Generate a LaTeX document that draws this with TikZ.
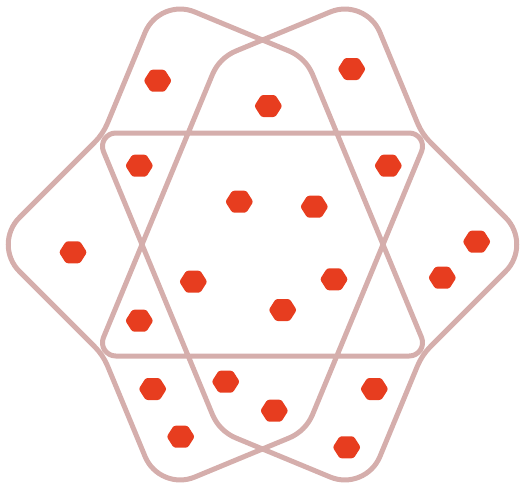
\documentclass[tikz,border=0pt]{standalone}
\usetikzlibrary{calc}
\definecolor{outlinecol}{RGB}{213,174,172}
\definecolor{blobred}{RGB}{231,61,31}
% #1 name, #2 previous vertex, #3 corner vertex, #4 next vertex, #5 tangent length, #6 control fraction
\newcommand\mkcorner[6]{%
  \coordinate (#1a) at ($(#3)!#5!(#2)$);
  \coordinate (#1b) at ($(#3)!#5!(#4)$);
  \coordinate (#1c) at ($(#1a)!#6!(#3)$);
  \coordinate (#1d) at ($(#1b)!#6!(#3)$);
}
\begin{document}
\begin{tikzpicture}[x=1pt,y=-1pt,
  outline/.style={draw=outlinecol,line width=5pt,line join=round},
  blob/.pic={\fill[blobred,rounded corners=2.2pt] (-14,0) -- (-7,-11) -- (7,-11) -- (14,0) -- (7,11) -- (-7,11) -- cycle;}]
\useasboundingbox (0,0) rectangle (520,488);
% vertices of the self-crossing outline
\coordinate (S) at (262.5,133);
\coordinate (V1) at (95.8,133);
\coordinate (V2) at (219.3,431.1);
\coordinate (V3) at (365.4,491.6);
\coordinate (V4) at (422,355);
\coordinate (V5) at (532.5,244.5);
\coordinate (V6) at (422,134);
\coordinate (V7) at (365.4,-2.6);
\coordinate (V8) at (219.3,57.9);
\coordinate (V9) at (95.8,356);
\coordinate (V10) at (429.2,356);
\coordinate (V11) at (305.7,57.9);
\coordinate (V12) at (159.6,-2.6);
\coordinate (V13) at (103,134);
\coordinate (V14) at (-7.5,244.5);
\coordinate (V15) at (103,355);
\coordinate (V16) at (159.6,491.6);
\coordinate (V17) at (305.7,431.1);
\coordinate (V18) at (429.2,133);
\mkcorner{C1}{S}{V1}{V2}{20pt}{0.476}
\mkcorner{C2}{V1}{V2}{V3}{18pt}{0.640}
\mkcorner{C3}{V2}{V3}{V4}{38pt}{0.552}
\mkcorner{C4}{V3}{V4}{V5}{12pt}{0.660}
\mkcorner{C5}{V4}{V5}{V6}{38pt}{0.552}
\mkcorner{C6}{V5}{V6}{V7}{12pt}{0.660}
\mkcorner{C7}{V6}{V7}{V8}{38pt}{0.552}
\mkcorner{C8}{V7}{V8}{V9}{18pt}{0.640}
\mkcorner{C9}{V8}{V9}{V10}{20pt}{0.476}
\mkcorner{C10}{V9}{V10}{V11}{20pt}{0.476}
\mkcorner{C11}{V10}{V11}{V12}{18pt}{0.640}
\mkcorner{C12}{V11}{V12}{V13}{38pt}{0.552}
\mkcorner{C13}{V12}{V13}{V14}{12pt}{0.660}
\mkcorner{C14}{V13}{V14}{V15}{38pt}{0.552}
\mkcorner{C15}{V14}{V15}{V16}{12pt}{0.660}
\mkcorner{C16}{V15}{V16}{V17}{38pt}{0.552}
\mkcorner{C17}{V16}{V17}{V18}{18pt}{0.640}
\mkcorner{C18}{V17}{V18}{S}{20pt}{0.476}
\draw[outline] (S)
 -- (C1a) .. controls (C1c) and (C1d) .. (C1b)
 -- (C2a) .. controls (C2c) and (C2d) .. (C2b)
 -- (C3a) .. controls (C3c) and (C3d) .. (C3b)
 -- (C4a) .. controls (C4c) and (C4d) .. (C4b)
 -- (C5a) .. controls (C5c) and (C5d) .. (C5b)
 -- (C6a) .. controls (C6c) and (C6d) .. (C6b)
 -- (C7a) .. controls (C7c) and (C7d) .. (C7b)
 -- (C8a) .. controls (C8c) and (C8d) .. (C8b)
 -- (C9a) .. controls (C9c) and (C9d) .. (C9b)
 -- (C10a) .. controls (C10c) and (C10d) .. (C10b)
 -- (C11a) .. controls (C11c) and (C11d) .. (C11b)
 -- (C12a) .. controls (C12c) and (C12d) .. (C12b)
 -- (C13a) .. controls (C13c) and (C13d) .. (C13b)
 -- (C14a) .. controls (C14c) and (C14d) .. (C14b)
 -- (C15a) .. controls (C15c) and (C15d) .. (C15b)
 -- (C16a) .. controls (C16c) and (C16d) .. (C16b)
 -- (C17a) .. controls (C17c) and (C17d) .. (C17b)
 -- (C18a) .. controls (C18c) and (C18d) .. (C18b)
 -- cycle;
% red points
\foreach \px/\py [count=\i] in {157.7/80.7, 351.7/69, 268.3/106, 139.3/165.7, 388.3/165.7,
  239.3/201.7, 314.3/206.7, 73/252.3, 476.7/241.7, 442.3/277.7,
  193.3/281.7, 334/279.3, 282.7/310, 139.3/320.7, 152.7/389,
  225.7/381.7, 274.3/410.7, 374.3/389, 180.7/436.7, 346.7/447.3}
  \pic (p\i) at (\px,\py) {blob};
\end{tikzpicture}
\end{document}
